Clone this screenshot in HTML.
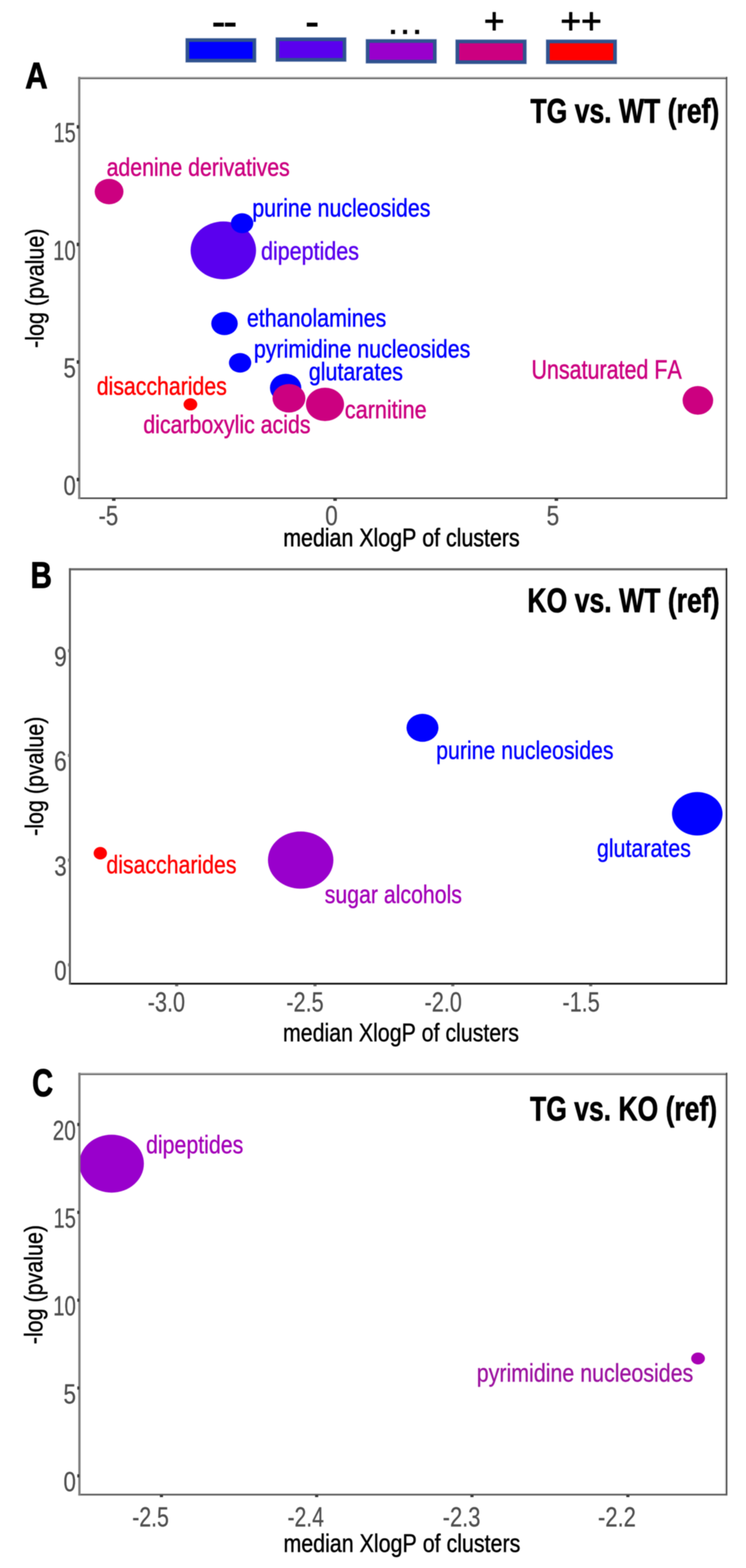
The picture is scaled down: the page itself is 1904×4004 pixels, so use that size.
<!DOCTYPE html>
<html lang="en">
<head>
<meta charset="utf-8">
<title>Chemical similarity enrichment plots</title>
<style>
html, body { margin: 0; padding: 0; background: #ffffff; }
body { width: 1904px; height: 4004px; overflow: hidden; }
svg { display: block; font-family: "Liberation Sans", "DejaVu Sans", sans-serif; }
svg text { font-kerning: none; font-variant-ligatures: none; white-space: pre; }
</style>
</head>
<body>
<svg width="1904" height="4004" viewBox="0 0 1904 4004">
<defs>
<filter id="soft" x="0" y="0" width="1904" height="4004" filterUnits="userSpaceOnUse" color-interpolation-filters="sRGB">
<feGaussianBlur stdDeviation="1.0"/>
</filter>
</defs>
<rect x="0" y="0" width="1904" height="4004" fill="#ffffff"/>
<g filter="url(#soft)">
<rect x="0" y="0" width="1904" height="4004" fill="#ffffff"/>
<g id="legend">
<rect x="472.8" y="96.8" width="181.9" height="63.4" fill="#c3cbe0"/>
<rect x="474" y="98" width="179.5" height="61" fill="#2f528f"/>
<rect x="483" y="107" width="161.5" height="43" fill="#0000ff"/>
<rect x="702.8" y="94.8" width="181.9" height="63.4" fill="#c3cbe0"/>
<rect x="704" y="96" width="179.5" height="61" fill="#2f528f"/>
<rect x="713" y="105" width="161.5" height="43" fill="#5a00ee"/>
<rect x="932.8" y="99.3" width="182.4" height="63.4" fill="#c3cbe0"/>
<rect x="934" y="100.5" width="180" height="61" fill="#2f528f"/>
<rect x="943" y="109.5" width="162" height="43" fill="#9900cc"/>
<rect x="1161.8" y="100.3" width="182.9" height="63.9" fill="#c3cbe0"/>
<rect x="1163" y="101.5" width="180.5" height="61.5" fill="#2f528f"/>
<rect x="1172" y="110.5" width="162.5" height="43.5" fill="#cc0080"/>
<rect x="1392.8" y="100.3" width="182.4" height="63.9" fill="#c3cbe0"/>
<rect x="1394" y="101.5" width="180" height="61.5" fill="#2f528f"/>
<rect x="1403" y="110.5" width="162" height="43.5" fill="#ff0000"/>
<text transform="translate(540.25 85.30) scale(1.2361 1.0000)" font-size="86" fill="#000" font-weight="700" letter-spacing="-4.524">--</text>
<text transform="translate(778.78 85.30) scale(1.2548 1.0000)" font-size="86" fill="#000" font-weight="700">-</text>
<text transform="translate(993.07 87.40) scale(1.0089 1.0000)" font-size="72" fill="#000" font-weight="700" letter-spacing="10.498">...</text>
<text transform="translate(1235.08 85.20) scale(0.9807 1.0000)" font-size="92" fill="#000" stroke="#000" stroke-width="1.8" stroke-linejoin="round">+</text>
<text transform="translate(1430.27 85.20) scale(0.9838 1.0000)" font-size="92" fill="#000" stroke="#000" stroke-width="1.8" stroke-linejoin="round">++</text>
</g>
<g id="panel-a">
<ellipse cx="570" cy="639.4" rx="83.5" ry="73.8" fill="#5a00ee"/>
<ellipse cx="617.9" cy="570" rx="28.6" ry="25.4" fill="#0000ff"/>
<ellipse cx="278.4" cy="489.2" rx="36.7" ry="32.5" fill="#cc0080"/>
<ellipse cx="573" cy="826.2" rx="33.8" ry="29.6" fill="#0000ff"/>
<ellipse cx="612.8" cy="926.5" rx="28.5" ry="25" fill="#0000ff"/>
<ellipse cx="729" cy="990.5" rx="40" ry="36" fill="#0000ff"/>
<ellipse cx="737.5" cy="1017" rx="42" ry="36.5" fill="#cc0080"/>
<ellipse cx="829.5" cy="1032.6" rx="48.6" ry="42.7" fill="#cc0080"/>
<ellipse cx="486" cy="1032.6" rx="17.5" ry="15.5" fill="#ff0000"/>
<ellipse cx="1781.2" cy="1022.4" rx="39" ry="36.6" fill="#cc0080"/>
<rect x="199.4" y="196.2" width="1656.8" height="3" fill="#b0b0b0"/>
<rect x="199.4" y="199.2" width="1656.8" height="2.8" fill="#555555"/>
<rect x="1850" y="202" width="3" height="1068.55" fill="#dcdcdc"/>
<rect x="1853" y="196.2" width="3.2" height="1077.6" fill="#444444"/>
<rect x="199.4" y="1273.8" width="1656.8" height="1.3" fill="#d0d0d0"/>
<rect x="199.4" y="1270.5" width="1656.8" height="3.3" fill="#333333"/>
<rect x="199.4" y="196.2" width="5.7" height="1077.6" fill="#808080"/>
<text transform="translate(64.36 225.50) scale(0.8367 1.0000)" font-size="95" fill="#000" font-weight="700" stroke="#000" stroke-width="2" stroke-linejoin="round">A</text>
<text transform="translate(1353.82 313.00) scale(0.7790 1.0000)" font-size="87" fill="#000" font-weight="700" stroke="#000" stroke-width="1.5" stroke-linejoin="round">TG vs. WT (ref)</text>
<text transform="translate(136.84 363.30) scale(0.7266 1.0000)" font-size="70" fill="#4d4d4d" stroke="#4d4d4d" stroke-width="0.6" stroke-linejoin="round">15</text>
<rect x="195.85" y="319.6" width="6" height="8.8" fill="#333333"/>
<text transform="translate(135.78 663.50) scale(0.7387 1.0000)" font-size="70" fill="#4d4d4d" stroke="#4d4d4d" stroke-width="0.6" stroke-linejoin="round">10</text>
<rect x="195.85" y="619.8" width="6" height="8.8" fill="#333333"/>
<text transform="translate(161.96 963.70) scale(0.8139 1.0000)" font-size="70" fill="#4d4d4d" stroke="#4d4d4d" stroke-width="0.6" stroke-linejoin="round">5</text>
<rect x="195.85" y="920" width="6" height="8.8" fill="#333333"/>
<text transform="translate(162.03 1263.80) scale(0.8074 1.0000)" font-size="70" fill="#4d4d4d" stroke="#4d4d4d" stroke-width="0.6" stroke-linejoin="round">0</text>
<rect x="195.85" y="1220.1" width="6" height="8.8" fill="#333333"/>
<text transform="translate(251.53 1340.50) scale(0.8065 1.0000)" font-size="70" fill="#4d4d4d" stroke="#4d4d4d" stroke-width="0.6" stroke-linejoin="round">-5</text>
<rect x="285.9" y="1273.3" width="9" height="5.6" fill="#333333"/>
<text transform="translate(830.00 1340.50) scale(0.8220 1.0000)" font-size="70" fill="#4d4d4d" stroke="#4d4d4d" stroke-width="0.6" stroke-linejoin="round">0</text>
<rect x="850.7" y="1273.3" width="9" height="5.6" fill="#333333"/>
<text transform="translate(1394.93 1340.50) scale(0.8287 1.0000)" font-size="70" fill="#4d4d4d" stroke="#4d4d4d" stroke-width="0.6" stroke-linejoin="round">5</text>
<rect x="1415.5" y="1273.3" width="9" height="5.6" fill="#333333"/>
<text transform="translate(722.88 1395.00) scale(0.8331 1.0000)" font-size="65.5" fill="#000" stroke="#000" stroke-width="1.2" stroke-linejoin="round">median XlogP of clusters</text>
<text transform="translate(110.50 888.52) rotate(-90) scale(0.8378 1.0000)" font-size="65.5" fill="#000" stroke="#000" stroke-width="1" stroke-linejoin="round">-log (pvalue)</text>
<text transform="translate(272.15 449.20) scale(0.8281 1.0000)" font-size="65.5" fill="#cc0080" stroke="#cc0080" stroke-width="1.1" stroke-linejoin="round">adenine derivatives</text>
<text transform="translate(643.94 552.50) scale(0.8322 1.0000)" font-size="65.5" fill="#0000ff" stroke="#0000ff" stroke-width="1.1" stroke-linejoin="round">purine nucleosides</text>
<text transform="translate(666.16 662.80) scale(0.8374 1.0000)" font-size="65.5" fill="#5a00ee" stroke="#5a00ee" stroke-width="1.1" stroke-linejoin="round">dipeptides</text>
<text transform="translate(630.14 833.50) scale(0.8353 1.0000)" font-size="65.5" fill="#0000ff" stroke="#0000ff" stroke-width="1.1" stroke-linejoin="round">ethanolamines</text>
<text transform="translate(647.94 913.00) scale(0.8339 1.0000)" font-size="65.5" fill="#0000ff" stroke="#0000ff" stroke-width="1.1" stroke-linejoin="round">pyrimidine nucleosides</text>
<text transform="translate(788.16 970.50) scale(0.8356 1.0000)" font-size="65.5" fill="#0000ff" stroke="#0000ff" stroke-width="1.1" stroke-linejoin="round">glutarates</text>
<text transform="translate(246.88 1007.50) scale(0.8293 1.0000)" font-size="65.5" fill="#ff0000" stroke="#ff0000" stroke-width="1.1" stroke-linejoin="round">disaccharides</text>
<text transform="translate(365.77 1106.40) scale(0.8314 1.0000)" font-size="65.5" fill="#cc0080" stroke="#cc0080" stroke-width="1.1" stroke-linejoin="round">dicarboxylic acids</text>
<text transform="translate(880.12 1067.60) scale(0.8437 1.0000)" font-size="65.5" fill="#cc0080" stroke="#cc0080" stroke-width="1.1" stroke-linejoin="round">carnitine</text>
<text transform="translate(1356.43 966.80) scale(0.8365 1.0500)" font-size="65.5" fill="#cc0080" stroke="#cc0080" stroke-width="1.1" stroke-linejoin="round">Unsaturated FA</text>
</g>
<g id="panel-b">
<ellipse cx="256" cy="2178.8" rx="17" ry="16" fill="#ff0000"/>
<ellipse cx="767.4" cy="2196.3" rx="83.5" ry="73" fill="#9900cc"/>
<ellipse cx="1078.3" cy="1858.5" rx="40.8" ry="35.7" fill="#0000ff"/>
<ellipse cx="1779.6" cy="2078" rx="64.5" ry="55.5" fill="#0000ff"/>
<rect x="175.9" y="1450.9" width="1680.15" height="5.6" fill="#6a6a6a"/>
<rect x="1849.75" y="1456.6" width="3" height="1053.6" fill="#dcdcdc"/>
<rect x="1852.75" y="1450.9" width="3.3" height="1063" fill="#0a0a0a"/>
<rect x="175.9" y="2513.9" width="1680.15" height="1.3" fill="#d0d0d0"/>
<rect x="175.9" y="2509.7" width="1680.15" height="4.2" fill="#0a0a0a"/>
<rect x="175.9" y="1450.9" width="5" height="1063" fill="#595959"/>
<text transform="translate(77.95 1500.50) scale(0.7942 1.0000)" font-size="95" fill="#000" font-weight="700" stroke="#000" stroke-width="2" stroke-linejoin="round">B</text>
<text transform="translate(1346.04 1562.50) scale(0.7807 1.0000)" font-size="87" fill="#000" font-weight="700" stroke="#000" stroke-width="1.5" stroke-linejoin="round">KO vs. WT (ref)</text>
<text transform="translate(137.90 1700.80) scale(0.8380 1.0000)" font-size="70" fill="#4d4d4d" stroke="#4d4d4d" stroke-width="0.6" stroke-linejoin="round">9</text>
<rect x="173.5" y="1657.5" width="4.5" height="8" fill="#777777"/>
<text transform="translate(137.67 1968.30) scale(0.8389 1.0000)" font-size="70" fill="#4d4d4d" stroke="#4d4d4d" stroke-width="0.6" stroke-linejoin="round">6</text>
<rect x="173.5" y="1925" width="4.5" height="8" fill="#777777"/>
<text transform="translate(138.47 2235.70) scale(0.8168 1.0000)" font-size="70" fill="#4d4d4d" stroke="#4d4d4d" stroke-width="0.6" stroke-linejoin="round">3</text>
<rect x="173.5" y="2192.4" width="4.5" height="8" fill="#777777"/>
<text transform="translate(138.43 2503.10) scale(0.8103 1.0000)" font-size="70" fill="#4d4d4d" stroke="#4d4d4d" stroke-width="0.6" stroke-linejoin="round">0</text>
<rect x="173.5" y="2459.8" width="4.5" height="8" fill="#777777"/>
<text transform="translate(376.98 2583.00) scale(0.7905 1.0000)" font-size="70" fill="#4d4d4d" stroke="#4d4d4d" stroke-width="0.6" stroke-linejoin="round">-3.0</text>
<rect x="446.9" y="2513.5" width="8" height="5" fill="#666666"/>
<text transform="translate(730.78 2583.00) scale(0.7901 1.0000)" font-size="70" fill="#4d4d4d" stroke="#4d4d4d" stroke-width="0.6" stroke-linejoin="round">-2.5</text>
<rect x="800" y="2513.5" width="8" height="5" fill="#666666"/>
<text transform="translate(1083.48 2583.00) scale(0.7913 1.0000)" font-size="70" fill="#4d4d4d" stroke="#4d4d4d" stroke-width="0.6" stroke-linejoin="round">-2.0</text>
<rect x="1151.6" y="2513.5" width="8" height="5" fill="#666666"/>
<text transform="translate(1435.48 2583.00) scale(0.7893 1.0000)" font-size="70" fill="#4d4d4d" stroke="#4d4d4d" stroke-width="0.6" stroke-linejoin="round">-1.5</text>
<rect x="1503.6" y="2513.5" width="8" height="5" fill="#666666"/>
<text transform="translate(722.26 2658.50) scale(0.8314 1.0000)" font-size="65.5" fill="#000" stroke="#000" stroke-width="0.9" stroke-linejoin="round">median XlogP of clusters</text>
<text transform="translate(110.00 2134.56) rotate(-90) scale(0.8366 1.0000)" font-size="65.5" fill="#000" stroke="#000" stroke-width="0.9" stroke-linejoin="round">-log (pvalue)</text>
<text transform="translate(271.59 2230.00) scale(0.8290 1.0000)" font-size="65.5" fill="#ff0000" stroke="#ff0000" stroke-width="0.9" stroke-linejoin="round">disaccharides</text>
<text transform="translate(828.86 2305.80) scale(0.8290 1.0000)" font-size="65.5" fill="#a300b8" stroke="#a300b8" stroke-width="0.9" stroke-linejoin="round">sugar alcohols</text>
<text transform="translate(1113.37 1938.00) scale(0.8287 1.0000)" font-size="65.5" fill="#0000ff" stroke="#0000ff" stroke-width="0.9" stroke-linejoin="round">purine nucleosides</text>
<text transform="translate(1523.58 2187.50) scale(0.8337 1.0000)" font-size="65.5" fill="#0000ff" stroke="#0000ff" stroke-width="0.9" stroke-linejoin="round">glutarates</text>
</g>
<g id="panel-c">
<ellipse cx="284.8" cy="2971.5" rx="82.4" ry="74" fill="#9900cc"/>
<ellipse cx="1781.6" cy="3469" rx="17.5" ry="15.2" fill="#a800b4"/>
<rect x="199.85" y="2739.3" width="1656.45" height="3" fill="#b0b0b0"/>
<rect x="199.85" y="2742.3" width="1656.45" height="2.8" fill="#555555"/>
<rect x="1849.9" y="2745.1" width="3" height="1069.8" fill="#dcdcdc"/>
<rect x="1852.9" y="2739.3" width="3.4" height="1079.2" fill="#3a3a3a"/>
<rect x="199.85" y="3818.5" width="1656.45" height="1.3" fill="#d0d0d0"/>
<rect x="199.85" y="3814.5" width="1656.45" height="4" fill="#555555"/>
<rect x="199.85" y="2739.3" width="5.7" height="1079.2" fill="#7c7c7c"/>
<text transform="translate(81.92 2799.00) scale(0.7567 1.0000)" font-size="98" fill="#000" font-weight="700" stroke="#000" stroke-width="2" stroke-linejoin="round">C</text>
<text transform="translate(1352.82 2860.80) scale(0.7777 1.0000)" font-size="87" fill="#000" font-weight="700" stroke="#000" stroke-width="1.5" stroke-linejoin="round">TG vs. KO (ref)</text>
<text transform="translate(134.56 2910.80) scale(0.7576 1.0000)" font-size="70" fill="#4d4d4d" stroke="#4d4d4d" stroke-width="0.6" stroke-linejoin="round">20</text>
<rect x="197.3" y="2867.5" width="5" height="8" fill="#333333"/>
<text transform="translate(136.83 3135.10) scale(0.7295 1.0000)" font-size="70" fill="#4d4d4d" stroke="#4d4d4d" stroke-width="0.6" stroke-linejoin="round">15</text>
<rect x="197.3" y="3091.8" width="5" height="8" fill="#333333"/>
<text transform="translate(135.77 3359.40) scale(0.7415 1.0000)" font-size="70" fill="#4d4d4d" stroke="#4d4d4d" stroke-width="0.6" stroke-linejoin="round">10</text>
<rect x="197.3" y="3316.1" width="5" height="8" fill="#333333"/>
<text transform="translate(161.95 3583.70) scale(0.8198 1.0000)" font-size="70" fill="#4d4d4d" stroke="#4d4d4d" stroke-width="0.6" stroke-linejoin="round">5</text>
<rect x="197.3" y="3540.4" width="5" height="8" fill="#333333"/>
<text transform="translate(162.02 3808.00) scale(0.8132 1.0000)" font-size="70" fill="#4d4d4d" stroke="#4d4d4d" stroke-width="0.6" stroke-linejoin="round">0</text>
<rect x="197.3" y="3764.7" width="5" height="8" fill="#333333"/>
<text transform="translate(337.42 3898.00) scale(0.7762 1.0000)" font-size="70" fill="#4d4d4d" stroke="#4d4d4d" stroke-width="0.6" stroke-linejoin="round">-2.5</text>
<rect x="408" y="3818" width="8" height="5" fill="#333333"/>
<text transform="translate(733.84 3898.00) scale(0.7694 1.0000)" font-size="70" fill="#4d4d4d" stroke="#4d4d4d" stroke-width="0.6" stroke-linejoin="round">-2.4</text>
<rect x="804.2" y="3818" width="8" height="5" fill="#333333"/>
<text transform="translate(1129.75 3898.00) scale(0.7998 1.0000)" font-size="70" fill="#4d4d4d" stroke="#4d4d4d" stroke-width="0.6" stroke-linejoin="round">-2.3</text>
<rect x="1200.6" y="3818" width="8" height="5" fill="#333333"/>
<text transform="translate(1526.35 3898.00) scale(0.8002 1.0000)" font-size="70" fill="#4d4d4d" stroke="#4d4d4d" stroke-width="0.6" stroke-linejoin="round">-2.2</text>
<rect x="1598.5" y="3818" width="8" height="5" fill="#333333"/>
<text transform="translate(723.39 3963.00) scale(0.8347 1.0000)" font-size="65.5" fill="#000" stroke="#000" stroke-width="1" stroke-linejoin="round">median XlogP of clusters</text>
<text transform="translate(107.50 3432.62) rotate(-90) scale(0.8367 1.0000)" font-size="65.5" fill="#000" stroke="#000" stroke-width="1" stroke-linejoin="round">-log (pvalue)</text>
<text transform="translate(372.64 2945.30) scale(0.8318 1.0000)" font-size="65.5" fill="#a300b8" stroke="#a300b8" stroke-width="0.8" stroke-linejoin="round">dipeptides</text>
<text transform="translate(1216.81 3527.80) scale(0.8343 1.0000)" font-size="65.5" fill="#9c12a0" stroke="#9c12a0" stroke-width="0.8" stroke-linejoin="round">pyrimidine nucleosides</text>
</g>
</g>
</svg>
</body>
</html>
